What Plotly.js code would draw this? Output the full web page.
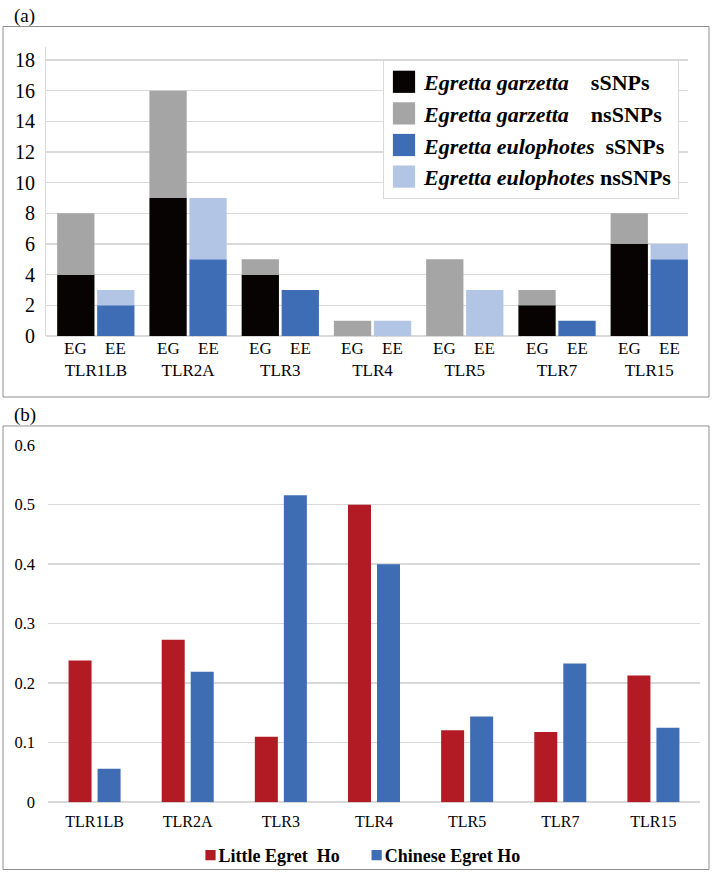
<!DOCTYPE html>
<html><head><meta charset="utf-8">
<script src="https://cdn.plot.ly/plotly-3.0.1.min.js"></script>
<style>
html,body{margin:0;padding:0;background:#fff;}
#a{width:712px;height:400px;}
#b{width:712px;height:474px;}
</style></head><body>
<div id="a"></div><div id="b"></div>
<script>
// ---------- data ----------
const genes = ["TLR1LB","TLR2A","TLR3","TLR4","TLR5","TLR7","TLR15"];
const speciesCodes = ["EG","EE"];
const egSyn    = [4,9,4,0,0,2,6];   // Egretta garzetta sSNPs
const egNonsyn = [4,7,1,1,5,1,2];   // Egretta garzetta nsSNPs
const eeSyn    = [2,5,3,0,0,1,5];   // Egretta eulophotes sSNPs
const eeNonsyn = [1,4,0,1,3,0,1];   // Egretta eulophotes nsSNPs
const littleEgretHo  = [0.238,0.273,0.110,0.500,0.121,0.118,0.213];
const chineseEgretHo = [0.056,0.219,0.516,0.400,0.144,0.233,0.125];

const FONT = "Liberation Serif, Times New Roman, serif";
const W = 712;

// ---------- panel (a) ----------
const HA = 400;
const pxA = x => x / W, pyA = y => 1 - y / HA;
const tracesA = [
  {name:"<b><i>Egretta garzetta</i>\u00a0\u00a0\u00a0\u00a0sSNPs</b>", y: egSyn, offsetgroup:"EG", color:"#070303", lg:"g1"},
  {name:"<b><i>Egretta garzetta</i>\u00a0\u00a0\u00a0\u00a0nsSNPs</b>", y: egNonsyn, base: egSyn, offsetgroup:"EG", color:"#a5a5a5", lg:"g2"},
  {name:"<b><i>Egretta eulophotes</i>\u00a0\u00a0sSNPs</b>", y: eeSyn, offsetgroup:"EE", color:"#3f6db5", lg:"g3"},
  {name:"<b><i>Egretta eulophotes</i>\u00a0nsSNPs</b>", y: eeNonsyn, base: eeSyn, offsetgroup:"EE", color:"#b3c5e5", lg:"g4"}
].map(t => {
  const o = {type:"bar", x: genes, y: t.y, name: t.name, offsetgroup: t.offsetgroup,
    legendgroup: t.lg, marker:{color:t.color, line:{width:0}}, hoverinfo:"skip"};
  if (t.base) o.base = t.base;
  return o;
});

const annA = [];
genes.forEach(g => {
  speciesCodes.forEach((c, k) => {
    annA.push({x:g, y:0, xref:"x", yref:"y", text:c, showarrow:false,
      xshift: k === 0 ? -20 : 20, yshift:-12, yanchor:"middle",
      font:{family:FONT, size:17, color:"#000"}});
  });
});
annA.push({x:pxA(12), y:pyA(16), xref:"paper", yref:"paper", xanchor:"left", yanchor:"middle",
  text:"(a)", showarrow:false, font:{family:FONT, size:19, color:"#000"}});

const layoutA = {
  width:W, height:HA, margin:{l:0,r:0,t:0,b:0},
  paper_bgcolor:"#fff", plot_bgcolor:"#fff",
  font:{family:FONT, color:"#000"},
  barmode:"group", bargap:0.133, bargroupgap:0.0675,
  showlegend:true,
  legend:{x:pxA(383), y:pyA(60), xanchor:"left", yanchor:"top",
    bgcolor:"#fff", bordercolor:"#d9d9d9", borderwidth:1,
    font:{family:FONT, size:22, color:"#000"}, tracegroupgap:4, traceorder:"normal"},
  xaxis:{domain:[pxA(46), pxA(688)], type:"category", range:[-0.54, 6.42],
    showgrid:false, showline:false, zeroline:false, ticks:"",
    tickfont:{family:FONT, size:17, color:"#000"}, ticklabelstandoff:22},
  yaxis:{domain:[pyA(336), pyA(47)], range:[0, 18.85], dtick:2,
    showgrid:true, gridcolor:"#d9d9d9", gridwidth:1.5,
    zeroline:true, zerolinecolor:"#d9d9d9", zerolinewidth:1.5,
    showline:true, linecolor:"#d9d9d9", linewidth:1, ticks:"",
    tickfont:{family:FONT, size:20, color:"#000"}, ticklabelstandoff:6},
  annotations: annA,
  shapes:[{type:"rect", xref:"paper", yref:"paper", x0:pxA(3), x1:pxA(709), y0:pyA(397), y1:pyA(26.5),
    line:{color:"#8f8f8f", width:1}, fillcolor:"rgba(0,0,0,0)"}]
};

// ---------- panel (b) ----------
const HB = 474;
const pxB = x => x / W, pyB = y => 1 - y / HB;
const tracesB = [
  {type:"bar", x:genes, y:littleEgretHo, name:"<b>Little Egret\u00a0\u00a0Ho</b>",
    marker:{color:"#b31b24", line:{width:0}}, hoverinfo:"skip"},
  {type:"bar", x:genes, y:chineseEgretHo, name:"<b>Chinese Egret Ho</b>",
    marker:{color:"#3e6db4", line:{width:0}}, hoverinfo:"skip"}
];
const layoutB = {
  width:W, height:HB, margin:{l:0,r:0,t:0,b:0},
  paper_bgcolor:"#fff", plot_bgcolor:"#fff",
  font:{family:FONT, color:"#000"},
  barmode:"group", bargap:0.377, bargroupgap:0.207,
  showlegend:true,
  legend:{orientation:"h", x:pxB(352), y:pyB(456), xanchor:"center", yanchor:"middle",
    bgcolor:"rgba(0,0,0,0)", font:{family:FONT, size:18, color:"#000"}},
  xaxis:{domain:[pxB(48), pxB(700)], type:"category",
    showgrid:false, showline:false, zeroline:false, ticks:"",
    tickfont:{family:FONT, size:16, color:"#000"}, ticklabelstandoff:8},
  yaxis:{domain:[pyB(403), pyB(45)], range:[0, 0.6005], dtick:0.1,
    showgrid:true, gridcolor:"#d9d9d9", gridwidth:1.5,
    zeroline:true, zerolinecolor:"#d9d9d9", zerolinewidth:1.5,
    showline:false, ticks:"",
    tickfont:{family:FONT, size:16.5, color:"#000"}, ticklabelstandoff:12},
  annotations:[{x:pxB(12), y:pyB(15), xref:"paper", yref:"paper", xanchor:"left", yanchor:"middle",
    text:"(b)", showarrow:false, font:{family:FONT, size:19, color:"#000"}}],
  shapes:[{type:"rect", xref:"paper", yref:"paper", x0:pxB(3), x1:pxB(709), y0:pyB(470.5), y1:pyB(26),
    line:{color:"#8f8f8f", width:1}, fillcolor:"rgba(0,0,0,0)"}]
};

function restyleLegendSymbols(sel, extra) {
  document.querySelectorAll(sel).forEach(p => {
    const prev = p.getAttribute("transform") || "";
    p.setAttribute("transform", (prev + " " + extra).trim());
  });
}

const cfg = {staticPlot:true, displayModeBar:false};
Plotly.newPlot("a", tracesA, layoutA, cfg).then(() => {
  restyleLegendSymbols("#a .legend .legendpoints path", "scale(1.85)");
});
Plotly.newPlot("b", tracesB, layoutB, cfg).then(() => {
  restyleLegendSymbols("#b .legend .legendpoints path", "translate(12,0) scale(0.85)");
});
</script>
</body></html>
